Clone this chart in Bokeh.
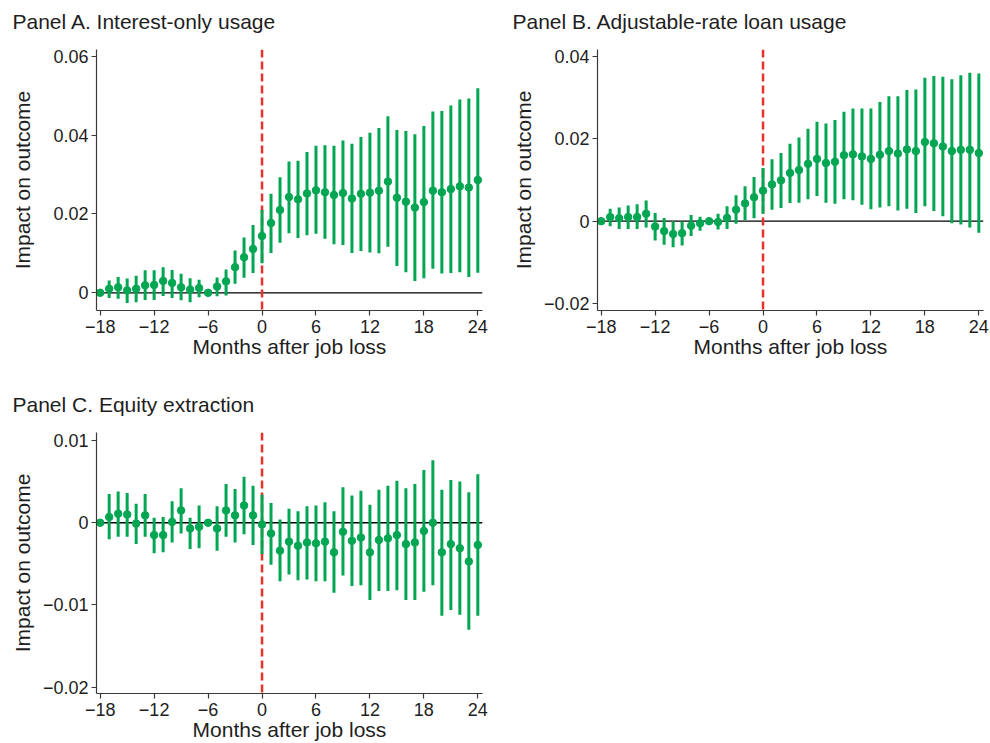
from bokeh.plotting import figure
from bokeh.models import Span, FixedTicker, ColumnDataSource, Range1d, Title
from bokeh.layouts import column, row
from bokeh.embed import file_html
from bokeh.resources import INLINE

months = list(range(-18, 25))
x_ticks = [-18, -12, -6, 0, 6, 12, 18, 24]
x_tick_labels = ["\u221218", "\u221212", "\u22126", "0", "6", "12", "18", "24"]

# Panel A: Interest-only usage
a_est = [0, 0.0010, 0.0014, 0.0006, 0.0010, 0.0019, 0.0020, 0.0030, 0.0025, 0.0014, 0.0008, 0.0012,
         0, 0.0016, 0.0029, 0.0065, 0.0090, 0.0111, 0.0144, 0.0177, 0.0210, 0.0243, 0.0237, 0.0252,
         0.0260, 0.0255, 0.0248, 0.0253, 0.0239, 0.0251, 0.0254, 0.0259, 0.0282, 0.0241, 0.0231,
         0.0216, 0.0230, 0.0259, 0.0255, 0.0263, 0.0270, 0.0267, 0.0286]
a_lo = [0, -0.0013, -0.0015, -0.0026, -0.0024, -0.0018, -0.0018, -0.0008, -0.0013, -0.0019, -0.0024,
        -0.0011, 0, -0.0009, -0.0007, 0.0023, 0.0038, 0.0050, 0.0075, 0.0101, 0.0127, 0.0151, 0.0139,
        0.0146, 0.0150, 0.0137, 0.0123, 0.0121, 0.0101, 0.0106, 0.0102, 0.0100, 0.0117, 0.0068,
        0.0052, 0.0030, 0.0037, 0.0061, 0.0049, 0.0050, 0.0052, 0.0040, 0.0051]
a_hi = [0, 0.0031, 0.0040, 0.0036, 0.0043, 0.0057, 0.0057, 0.0065, 0.0058, 0.0048, 0.0037, 0.0033,
        0, 0.0039, 0.0059, 0.0107, 0.0140, 0.0172, 0.0210, 0.0251, 0.0293, 0.0333, 0.0335, 0.0357,
        0.0373, 0.0374, 0.0373, 0.0386, 0.0378, 0.0395, 0.0406, 0.0418, 0.0448, 0.0413, 0.0410,
        0.0402, 0.0423, 0.0460, 0.0461, 0.0475, 0.0490, 0.0493, 0.0519]
a_yticks = [0, 0.02, 0.04, 0.06]
a_ylabels = ["0", "0.02", "0.04", "0.06"]

# Panel B: Adjustable-rate loan usage
b_est = [0, 0.0010, 0.0007, 0.0010, 0.0010, 0.0018, -0.0013, -0.0024, -0.0031, -0.0029, -0.0011,
         -0.0005, 0, -0.0002, 0.0008, 0.0028, 0.0043, 0.0058, 0.0074, 0.0089, 0.0099, 0.0117, 0.0124,
         0.0139, 0.0151, 0.0141, 0.0144, 0.0160, 0.0162, 0.0157, 0.0151, 0.0161, 0.0170, 0.0164,
         0.0174, 0.0170, 0.0192, 0.0189, 0.0181, 0.0170, 0.0173, 0.0173, 0.0165]
b_lo = [0, -0.0012, -0.0019, -0.0019, -0.0019, -0.0015, -0.0047, -0.0057, -0.0063, -0.0059, -0.0036,
        -0.0023, 0, -0.0020, -0.0019, -0.0006, 0.0002, 0.0007, 0.0018, 0.0028, 0.0032, 0.0044, 0.0045,
        0.0053, 0.0061, 0.0045, 0.0042, 0.0053, 0.0051, 0.0040, 0.0029, 0.0033, 0.0036, 0.0026,
        0.0030, 0.0020, 0.0036, 0.0025, 0.0012, -0.0005, -0.0008, -0.0015, -0.0028]
b_hi = [0, 0.0030, 0.0033, 0.0038, 0.0041, 0.0050, 0.0020, 0.0008, 0.0000, -0.0001, 0.0015, 0.0011,
        0, 0.0018, 0.0036, 0.0063, 0.0085, 0.0107, 0.0129, 0.0150, 0.0165, 0.0188, 0.0203, 0.0224,
        0.0241, 0.0237, 0.0245, 0.0265, 0.0273, 0.0273, 0.0273, 0.0289, 0.0303, 0.0303, 0.0318,
        0.0319, 0.0348, 0.0352, 0.0350, 0.0344, 0.0354, 0.0360, 0.0358]
b_yticks = [-0.02, 0, 0.02, 0.04]
b_ylabels = ["\u22120.02", "0", "0.02", "0.04"]

# Panel C: Equity extraction
c_est = [0, 0.0007, 0.0011, 0.0010, -0.0001, 0.0009, -0.0015, -0.0015, 0.0001, 0.0015, -0.0007,
         -0.0005, 0, -0.0007, 0.0015, 0.0009, 0.0021, 0.0009, -0.0002, -0.0013, -0.0034, -0.0023,
         -0.0028, -0.0024, -0.0025, -0.0023, -0.0036, -0.0011, -0.0022, -0.0018, -0.0036, -0.0021,
         -0.0019, -0.0015, -0.0026, -0.0024, -0.0010, 0.0000, -0.0036, -0.0026, -0.0031, -0.0047, -0.0027]
c_lo = [0, -0.0020, -0.0017, -0.0017, -0.0026, -0.0017, -0.0037, -0.0036, -0.0024, -0.0013, -0.0032,
        -0.0031, 0, -0.0034, -0.0017, -0.0024, -0.0014, -0.0027, -0.0038, -0.0051, -0.0071, -0.0063,
        -0.0070, -0.0069, -0.0071, -0.0071, -0.0085, -0.0064, -0.0077, -0.0076, -0.0094, -0.0083,
        -0.0083, -0.0082, -0.0094, -0.0094, -0.0084, -0.0076, -0.0113, -0.0106, -0.0112, -0.0130, -0.0113]
c_hi = [0, 0.0035, 0.0038, 0.0036, 0.0023, 0.0035, 0.0006, 0.0007, 0.0026, 0.0042, 0.0006, 0.0021,
        0, 0.0020, 0.0047, 0.0041, 0.0056, 0.0045, 0.0034, 0.0024, 0.0004, 0.0017, 0.0014, 0.0020,
        0.0021, 0.0025, 0.0014, 0.0043, 0.0033, 0.0039, 0.0022, 0.0040, 0.0045, 0.0051, 0.0042,
        0.0047, 0.0064, 0.0076, 0.0040, 0.0052, 0.0050, 0.0037, 0.0059]
c_yticks = [-0.02, -0.01, 0, 0.01]
c_ylabels = ["\u22120.02", "\u22120.01", "0", "0.01"]

GREEN = "#00a651"
RED = "#e8312a"
AXIS = "#3a3a3a"
TEXT = "#1e1e1e"
FONT = "Liberation Sans"


def make_panel(title, est, lo, hi, yrange, yticks, ylabels, width, height,
               left, right, top, bottom, title_offset, ylab_standoff):
    p = figure(width=width, height=height, output_backend="svg", toolbar_location=None,
               x_range=Range1d(-18.41, 24.52), y_range=Range1d(*yrange),
               min_border_left=left, min_border_right=right,
               min_border_top=top, min_border_bottom=bottom,
               background_fill_color="white", border_fill_color="white")
    p.outline_line_color = None
    p.xgrid.visible = False
    p.ygrid.visible = False

    # spacer between the title and the frame
    p.add_layout(Title(text=" ", text_font_size="10px", standoff=4,
                       text_color="white"), "above")

    p.title.text = title
    p.title.align = "left"
    p.title.offset = title_offset
    p.title.text_font = FONT
    p.title.text_font_size = "21px"
    p.title.text_font_style = "normal"
    p.title.text_color = TEXT
    p.title.standoff = 0

    src = ColumnDataSource(dict(m=months, est=est, lo=lo, hi=hi))

    p.add_layout(Span(location=0, dimension="width", line_color="black",
                      line_width=1.3, level="underlay"))
    p.add_layout(Span(location=0, dimension="height", line_color=RED,
                      line_width=2.5, line_dash="8 4", level="underlay"))

    p.segment(x0="m", y0="lo", x1="m", y1="hi", source=src, line_color=GREEN,
              line_width=3)
    p.scatter(x="m", y="est", source=src, size=7.5, fill_color=GREEN,
              line_color=GREEN)

    for ax in (p.xaxis[0], p.yaxis[0]):
        ax.axis_line_color = AXIS
        ax.axis_line_width = 1.2
        ax.major_tick_line_color = AXIS
        ax.major_tick_line_width = 1.2
        ax.major_tick_out = 5
        ax.major_tick_in = 0
        ax.minor_tick_line_color = None
        ax.major_label_text_font = FONT
        ax.major_label_text_font_size = "18px"
        ax.major_label_text_color = TEXT
        ax.axis_label_text_font = FONT
        ax.axis_label_text_font_size = "21px"
        ax.axis_label_text_font_style = "normal"
        ax.axis_label_text_color = TEXT
        ax.major_label_standoff = 3

    p.xaxis.ticker = FixedTicker(ticks=x_ticks)
    p.xaxis.major_label_overrides = {t: l for t, l in zip(x_ticks, x_tick_labels)}
    p.xaxis.major_label_standoff = 4
    p.xaxis.axis_label = "Months after job loss"
    p.xaxis.axis_label_standoff = -1

    p.yaxis.ticker = FixedTicker(ticks=yticks)
    p.yaxis.major_label_overrides = {t: l for t, l in zip(yticks, ylabels)}
    p.yaxis.major_label_orientation = "horizontal"
    p.yaxis.axis_label = "Impact on outcome"
    p.yaxis.axis_label_standoff = ylab_standoff
    return p


pA = make_panel("Panel A. Interest-only usage", a_est, a_lo, a_hi, (-0.00449, 0.0617),
                a_yticks, a_ylabels, 496, 383, 96, 14, 49, 73, -84, 16)
pB = make_panel("Panel B. Adjustable-rate loan usage", b_est, b_lo, b_hi, (-0.02165, 0.04162),
                b_yticks, b_ylabels, 494, 383, 101, 7, 49, 73, -85, 6)
pC = make_panel("Panel C. Equity extraction", c_est, c_lo, c_hi, (-0.02076, 0.01097),
                c_yticks, c_ylabels, 496, 360, 96, 14, 49, 50, -84, 6)

layout = column(row(pA, pB), pC)
open("out.html", "w").write(file_html(layout, INLINE))
